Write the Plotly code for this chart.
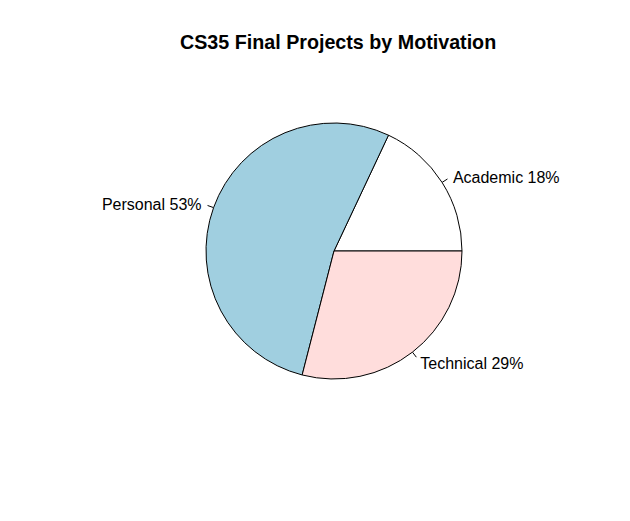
import math
import plotly.graph_objects as go

categories = ["Academic", "Personal", "Technical"]
values = [18, 53, 29]
colors = ["#FFFFFF", "#A0CFE0", "#FFDDDC"]
title = "CS35 Final Projects by Motivation"

W, H = 630, 521
cx, cy, r = 334, 251, 128

total = sum(values)
pct = [round(100 * v / total) for v in values]

# first slice starts at 3 o'clock and slices run counterclockwise (R pie default)
rotation = 90 - 360 * values[0] / total

fig = go.Figure()
fig.add_trace(go.Pie(
    labels=categories, values=values, sort=False,
    direction="counterclockwise", rotation=rotation,
    marker=dict(colors=colors, line=dict(color="black", width=1)),
    textinfo="none", hoverinfo="skip", showlegend=False,
    domain=dict(x=[(cx - r) / W, (cx + r) / W], y=[1 - (cy + r) / H, 1 - (cy - r) / H]),
))

# tick lines and labels at R-style positions
lx, ly, tx_r, ty_r, tx_l, ty_l, tr, tl = [], [], [], [], [], [], [], []
cum = 0
for cat, v, p in zip(categories, values, pct):
    mid = 2 * math.pi * (cum + v / 2) / total
    cum += v
    c, s = math.cos(mid), math.sin(mid)
    lx += [cx + r * c, cx + 1.05 * r * c, None]
    ly += [cy - r * s, cy - 1.05 * r * s, None]
    px, py = cx + 1.1 * r * c, cy - 1.1 * r * s + 3
    if c >= 0:
        tx_r.append(px); ty_r.append(py); tr.append(f"{cat} {p}%")
    else:
        tx_l.append(px); ty_l.append(py); tl.append(f"{cat} {p}%")

fig.add_trace(go.Scatter(x=lx, y=ly, mode="lines", line=dict(color="black", width=1),
                         hoverinfo="skip", showlegend=False))
fig.add_trace(go.Scatter(x=tx_r, y=ty_r, text=tr, mode="text", textposition="middle right",
                         textfont=dict(family="Liberation Sans, Arial", size=16, color="black"),
                         hoverinfo="skip", showlegend=False))
fig.add_trace(go.Scatter(x=tx_l, y=ty_l, text=tl, mode="text", textposition="middle left",
                         textfont=dict(family="Liberation Sans, Arial", size=16, color="black"),
                         hoverinfo="skip", showlegend=False))

fig.update_layout(
    width=W, height=H, margin=dict(l=0, r=0, t=0, b=0),
    paper_bgcolor="white", plot_bgcolor="rgba(0,0,0,0)",
    xaxis=dict(range=[0, W], visible=False, fixedrange=True),
    yaxis=dict(range=[H, 0], visible=False, fixedrange=True),
    annotations=[dict(text=f"<b>{title}</b>", x=337.5 / W, y=1 - 42 / H, xref="paper", yref="paper",
                      showarrow=False, xanchor="center", yanchor="middle",
                      font=dict(family="Liberation Sans, Arial", size=19.7, color="black"))],
)

fig.write_html("out.html", config={"displayModeBar": False},
               post_script="document.body.style.margin='0';")
